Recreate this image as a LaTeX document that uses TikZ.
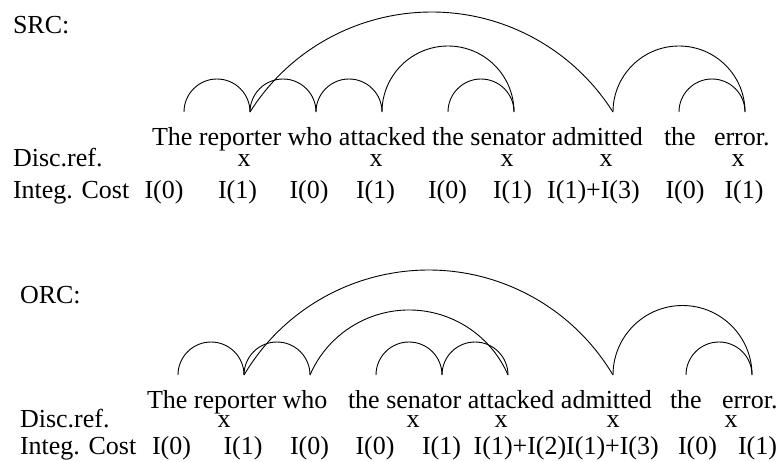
\documentclass[tikz,border=0pt]{standalone}
\usepackage{fontspec}
\setmainfont{Liberation Serif}
\begin{document}
\begin{tikzpicture}[x=1pt,y=1pt,
  txt/.style={inner sep=0pt,outer sep=0pt,anchor=base west,font=\fontsize{26}{30}\selectfont},
  ctxt/.style={txt,anchor=base},
  dep/.style={line width=0.9pt}]
\useasboundingbox (0,0) rectangle (779,-461);

% ---------------- SRC ----------------
\node[txt] (srclab) at (13,-33) {SRC:};
\node[txt] (s1) at (152,-145) {The reporter who attacked the senator admitted};
\node[txt] (s8) at (664,-145) {the};
\node[txt] (s9) at (714,-145) {error.};

\node[txt] (sdisc) at (13,-166) {Disc.ref.};
\node[ctxt] (sx1) at (244,-166) {x};
\node[ctxt] (sx2) at (376,-166) {x};
\node[ctxt] (sx3) at (507,-166) {x};
\node[ctxt] (sx4) at (606,-166) {x};
\node[ctxt] (sx5) at (738,-166) {x};

\node[txt] (sint) at (13,-198) {Integ. Cost};
\node[ctxt] (sc1) at (164,-198) {I(0)};
\node[ctxt] (sc2) at (237.5,-198) {I(1)};
\node[ctxt] (sc3) at (309,-198) {I(0)};
\node[ctxt] (sc4) at (375.5,-198) {I(1)};
\node[ctxt] (sc5) at (447.5,-198) {I(0)};
\node[ctxt] (sc6) at (512.5,-198) {I(1)};
\node[ctxt] (sc7) at (593.5,-198) {I(1)+I(3)};
\node[ctxt] (sc8) at (685,-198) {I(0)};
\node[ctxt] (sc9) at (744,-198) {I(1)};

\coordinate (sT) at (184,-112);
\coordinate (sR) at (250,-112);
\coordinate (sW) at (316,-112);
\coordinate (sA) at (382,-112);
\coordinate (st) at (448,-112);
\coordinate (sS) at (514,-112);
\coordinate (sD) at (613,-112);
\coordinate (sh) at (679,-112);
\coordinate (sE) at (745,-112);

\draw[dep] (sT) arc[start angle=180,end angle=0,radius=33];
\draw[dep] (sR) arc[start angle=180,end angle=0,radius=33];
\draw[dep] (sW) arc[start angle=180,end angle=0,radius=33];
\draw[dep] (sA) arc[start angle=180,end angle=0,radius=66];
\draw[dep] (st) arc[start angle=180,end angle=0,radius=33];
\draw[dep] (sR) arc[start angle=147.7,end angle=32.3,radius=214.7];
\draw[dep] (sD) arc[start angle=180,end angle=0,radius=66];
\draw[dep] (sh) arc[start angle=180,end angle=0,radius=33];

% ---------------- ORC ----------------
\node[txt] (orclab) at (20,-303) {ORC:};
\node[txt] (o1) at (147,-408) {The reporter who};
\node[txt] (o4) at (348,-408) {the senator attacked admitted};
\node[txt] (o8) at (670,-408) {the};
\node[txt] (o9) at (722,-408) {error.};

\node[txt] (odisc) at (20,-427) {Disc.ref.};
\node[ctxt] (ox1) at (224,-427) {x};
\node[ctxt] (ox2) at (413,-427) {x};
\node[ctxt] (ox3) at (501,-427) {x};
\node[ctxt] (ox4) at (613,-427) {x};
\node[ctxt] (ox5) at (731,-427) {x};

\node[txt] (oint) at (20,-454) {Integ. Cost};
\node[ctxt] (oc1) at (171.5,-454) {I(0)};
\node[ctxt] (oc2) at (243,-454) {I(1)};
\node[ctxt] (oc3) at (309.5,-454) {I(0)};
\node[ctxt] (oc4) at (375,-454) {I(0)};
\node[ctxt] (oc5) at (441.5,-454) {I(1)};
\node[ctxt] (oc6) at (520,-454) {I(1)+I(2)};
\node[ctxt] (oc7) at (612.5,-454) {I(1)+I(3)};
\node[ctxt] (oc8) at (697.5,-454) {I(0)};
\node[ctxt] (oc9) at (757.5,-454) {I(1)};

\coordinate (oT) at (178,-375);
\coordinate (oR) at (244,-375);
\coordinate (oW) at (310,-375);
\coordinate (ot) at (376,-375);
\coordinate (oS) at (442,-375);
\coordinate (oA) at (508,-375);
\coordinate (oD) at (613,-375);
\coordinate (oh) at (686,-375);
\coordinate (oE) at (752,-375);

\draw[dep] (oT) arc[start angle=180,end angle=0,radius=33];
\draw[dep] (oR) arc[start angle=180,end angle=0,radius=33];
\draw[dep] (ot) arc[start angle=180,end angle=0,radius=33];
\draw[dep] (oS) arc[start angle=180,end angle=0,radius=33];
\draw[dep] (oW) arc[start angle=156.58,end angle=23.42,radius=107.9];
\draw[dep] (oR) arc[start angle=149.28,end angle=30.72,radius=214.6];
\draw[dep] (oD) arc[start angle=180,end angle=0,radius=69.5];
\draw[dep] (oh) arc[start angle=180,end angle=0,radius=33];
\end{tikzpicture}
\end{document}
